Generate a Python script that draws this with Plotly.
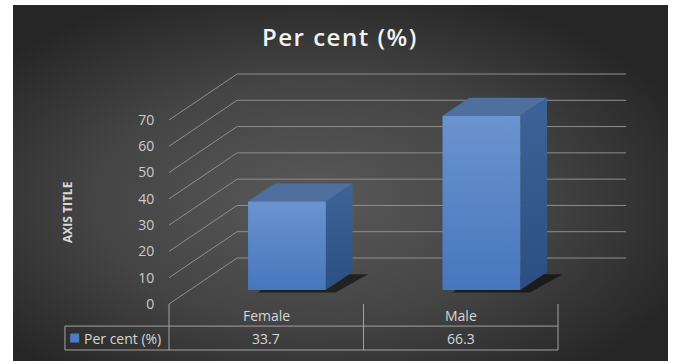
import base64
import plotly.graph_objects as go

# ---------------- data ----------------
categories = ["Female", "Male"]
values = [33.7, 66.3]
series_name = "Per cent (%)"
tick_values = [0, 10, 20, 30, 40, 50, 60, 70]
chart_title = "Per cent (%)"
axis_title = "AXIS TITLE"

# ---------------- layout / style constants ----------------
FIG_W, FIG_H = 673, 363
PX_PER_CAT = 194.5          # pixel width of one category column on the front plane
PX_PER_VAL = 184 / 70       # pixels per value unit
ORIGIN_PX = (169, 304)      # pixel of (category 0, value 0) on the front plane
DEPTH_DX = 0.35             # oblique depth, category units
DEPTH_DY = 17.5             # oblique depth, value units
BAR_F1, BAR_F2 = 0.304, 0.696   # bar front/back depth fractions
BAR_W = 0.40                # bar width in category units
ROW1, ROW2 = 8.4, 9.1       # data-table row heights (value units)
LEG_X = -0.535              # left edge of legend cell

GRID_COL = "#8f8f8f"
TABLE_COL = "#a3a3a3"
TEXT_COL = "#d6d6d6"
FONT = "Open Sans"

x_range = [-ORIGIN_PX[0] / PX_PER_CAT, (FIG_W - ORIGIN_PX[0]) / PX_PER_CAT]
y_range = [(ORIGIN_PX[1] - FIG_H) / PX_PER_VAL, ORIGIN_PX[1] / PX_PER_VAL]
n = len(categories)

fig = go.Figure()

# ---------- gridlines (back wall + left wall diagonals) ----------
gx, gy = [], []
for v in tick_values:
    gx += [0, DEPTH_DX, n + DEPTH_DX, None]
    gy += [v, v + DEPTH_DY, v + DEPTH_DY, None]
fig.add_trace(go.Scatter(x=gx, y=gy, mode="lines", line=dict(color=GRID_COL, width=1),
                         hoverinfo="skip", showlegend=False))

# ---------- 3D bars ----------
ax, ay = BAR_F1 * DEPTH_DX, BAR_F1 * DEPTH_DY
bx, by = BAR_F2 * DEPTH_DX, BAR_F2 * DEPTH_DY
for i, v in enumerate(values):
    c = i + 0.5
    x0, x1 = c - BAR_W / 2, c + BAR_W / 2
    # shadow on floor
    sx, sy = 0.05, -0.9
    fig.add_trace(go.Scatter(
        x=[x0 + ax + sx, x1 + ax + sx, x1 + bx + sx + 0.03, x0 + bx + sx, x0 + ax + sx],
        y=[ay + sy, ay + sy, by + sy, by + sy, ay + sy],
        fill="toself", fillcolor="rgba(0,0,0,0.55)", line=dict(width=0),
        mode="lines", hoverinfo="skip", showlegend=False))
    # side face
    fig.add_trace(go.Scatter(
        x=[x1 + ax, x1 + bx, x1 + bx, x1 + ax, x1 + ax],
        y=[ay, by, v + by, v + ay, ay],
        fill="toself", mode="lines", line=dict(width=0),
        fillgradient=dict(type="vertical", colorscale=[[0, "#2b4f82"], [1, "#3e6398"]]),
        hoverinfo="skip", showlegend=False))
    # top face
    fig.add_trace(go.Scatter(
        x=[x0 + ax, x1 + ax, x1 + bx, x0 + bx, x0 + ax],
        y=[v + ay, v + ay, v + by, v + by, v + ay],
        fill="toself", fillcolor="#4f6f9f", mode="lines", line=dict(width=0),
        hoverinfo="skip", showlegend=False))
    # front face
    fig.add_trace(go.Scatter(
        x=[x0 + ax, x1 + ax, x1 + ax, x0 + ax, x0 + ax],
        y=[ay, ay, v + ay, v + ay, ay],
        fill="toself", mode="lines", line=dict(width=0),
        fillgradient=dict(type="vertical", colorscale=[[0, "#4677bd"], [1, "#6b93cf"]]),
        hoverinfo="skip", showlegend=False))

# ---------- data table ----------
tx, ty = [], []
for k in range(n + 1):
    tx += [k, k, None]
    ty += [0, -(ROW1 + ROW2), None]
tx += [LEG_X, n, None, LEG_X, n, None, LEG_X, LEG_X, None]
ty += [-ROW1, -ROW1, None, -(ROW1 + ROW2), -(ROW1 + ROW2), None, -ROW1, -(ROW1 + ROW2), None]
fig.add_trace(go.Scatter(x=tx, y=ty, mode="lines", line=dict(color=TABLE_COL, width=1),
                         hoverinfo="skip", showlegend=False))

for i, (cat, v) in enumerate(zip(categories, values)):
    fig.add_annotation(x=i + 0.5, y=-ROW1 / 2, text=cat, showarrow=False,
                       xanchor="center", yanchor="middle",
                       font=dict(family=FONT, size=14, color=TEXT_COL))
    fig.add_annotation(x=i + 0.5, y=-ROW1 - ROW2 / 2, text=f"{v:.1f}", showarrow=False,
                       xanchor="center", yanchor="middle",
                       font=dict(family=FONT, size=14, color=TEXT_COL))

# legend key inside table
fig.add_trace(go.Scatter(x=[LEG_X + 0.05], y=[-ROW1 - ROW2 / 2], mode="markers",
                         marker=dict(symbol="square", size=9, color="#4a7dc4"),
                         hoverinfo="skip", showlegend=False))
fig.add_annotation(x=LEG_X + 0.086, y=-ROW1 - ROW2 / 2, text=series_name, showarrow=False,
                   xanchor="left", yanchor="middle",
                   font=dict(family=FONT, size=14, color=TEXT_COL))

# invisible trace for the value axis
fig.add_trace(go.Scatter(x=[0], y=[0], yaxis="y2", mode="markers",
                         marker=dict(opacity=0), hoverinfo="skip", showlegend=False))

# ---------- background gradient ----------
bg_l, bg_t, bg_r, bg_b = 13, 5, 668, 361
bw, bh = bg_r - bg_l, bg_b - bg_t
svg = (f'<svg xmlns="http://www.w3.org/2000/svg" width="{bw}" height="{bh}">'
       '<defs><radialGradient id="g" cx="0.46" cy="0.55" r="0.62">'
       '<stop offset="0" stop-color="#595959"/><stop offset="0.55" stop-color="#444444"/>'
       '<stop offset="1" stop-color="#262626"/></radialGradient></defs>'
       f'<rect width="{bw}" height="{bh}" fill="url(#g)"/></svg>')
src = "data:image/svg+xml;base64," + base64.b64encode(svg.encode()).decode()

fig.update_layout(
    width=FIG_W, height=FIG_H,
    margin=dict(l=0, r=0, t=0, b=0),
    paper_bgcolor="white", plot_bgcolor="rgba(0,0,0,0)",
    images=[dict(source=src, xref="paper", yref="paper", x=bg_l / FIG_W, y=1 - bg_t / FIG_H,
                 sizex=bw / FIG_W, sizey=bh / FIG_H, xanchor="left", yanchor="top",
                 sizing="stretch", layer="below")],
    xaxis=dict(range=x_range, visible=False, fixedrange=True),
    yaxis=dict(range=y_range, visible=False, fixedrange=True),
    yaxis2=dict(range=y_range, overlaying="y", anchor="free", position=ORIGIN_PX[0] / FIG_W,
                side="left", tickvals=tick_values, showgrid=False, zeroline=False,
                showline=False, ticks="outside", ticklen=12, tickcolor="rgba(0,0,0,0)",
                tickfont=dict(family=FONT, size=14, color="#cccccc"), fixedrange=True),
    showlegend=False,
)

fig.add_annotation(xref="paper", yref="paper", x=340 / FIG_W, y=1 - 36 / FIG_H,
                   xanchor="center", yanchor="middle",
                   text=f'<span style="letter-spacing:1.5px">{chart_title}</span>',
                   showarrow=False,
                   font=dict(family=FONT, size=24, color="#f2f2f2", weight=600))
fig.add_annotation(xref="paper", yref="paper", x=67 / FIG_W, y=1 - 212 / FIG_H,
                   xanchor="center", yanchor="middle",
                   text=f"<b>{axis_title}</b>", showarrow=False, textangle=-90,
                   font=dict(family=FONT, size=12, color="#d9d9d9"))

fig.write_html("out.html")
